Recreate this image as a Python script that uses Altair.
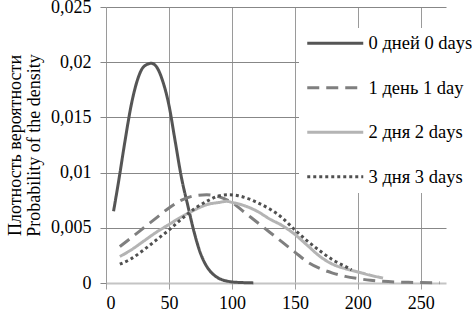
import altair as alt
import pandas as pd

series_names = ["0 дней 0 days", "1 день 1 day", "2 дня 2 days", "3 дня 3 days"]
series_colors = ["#555555", "#7f7f7f", "#b4b4b4", "#505050"]
series_dashes = [[1, 0], [12, 7], [1, 0], [3, 3]]

x0 = [6, 10, 15, 20, 25, 30, 36, 40, 45, 50, 55, 60, 65, 70, 75, 80, 85, 90, 95, 100, 108, 117]
y0 = [0.0065, 0.0092, 0.0128, 0.0161, 0.0184, 0.0196, 0.0199, 0.0196, 0.0183, 0.0161, 0.0128,
      0.0095, 0.0070, 0.0046, 0.0027, 0.0015, 0.0008, 0.0004, 0.0002, 0.0001, 0.00004, 0.00001]

x1 = [11, 20, 30, 40, 50, 60, 70, 80, 90, 100, 110, 120, 130, 140, 150, 160, 170, 180, 190, 200,
      210, 220, 240, 265]
y1 = [0.0033, 0.0041, 0.0050, 0.0059, 0.0068, 0.0075, 0.0079, 0.0080, 0.0078, 0.0073, 0.0064,
      0.0055, 0.0046, 0.0037, 0.0028, 0.0019, 0.0013, 0.0009, 0.0006, 0.0004, 0.00025, 0.00015,
      0.00006, 0.00002]

x2 = [11, 20, 30, 40, 50, 60, 70, 80, 90, 96, 100, 110, 120, 130, 140, 150, 160, 170, 180, 190,
      200, 210, 220]
y2 = [0.0024, 0.0030, 0.0038, 0.0046, 0.0053, 0.0060, 0.0066, 0.0071, 0.0073, 0.0074, 0.0073,
      0.0070, 0.0065, 0.0058, 0.0052, 0.0044, 0.0034, 0.0024, 0.0017, 0.0013, 0.0010, 0.0007,
      0.00045]

x3 = [11, 20, 30, 40, 50, 60, 70, 80, 90, 98, 105, 114, 120, 130, 140, 150, 160, 170, 180, 190, 195]
y3 = [0.0017, 0.0022, 0.0030, 0.0039, 0.0048, 0.0058, 0.0067, 0.0074, 0.0079, 0.0080, 0.0079,
      0.0076, 0.0073, 0.0067, 0.0059, 0.0048, 0.0038, 0.0029, 0.0021, 0.0015, 0.0012]

x_ticks = [0, 50, 100, 150, 200, 250]
y_ticks = [0, 0.005, 0.01, 0.015, 0.02, 0.025]
y_title = ["Плотность вероятности", "Probability of the density"]

rows = []
for name, xs, ys in zip(series_names, [x0, x1, x2, x3], [y0, y1, y2, y3]):
    for a, b in zip(xs, ys):
        rows.append({"series": name, "x": a, "y": b})
df = pd.DataFrame(rows)

FONT = "Liberation Serif"

legend = alt.Legend(
    title=None, orient="none", legendX=193, legendY=21,
    fillColor="white", padding=6,
    symbolType="M-1,0H7", symbolSize=196, symbolStrokeWidth=3,
    labelFont=FONT, labelFontSize=18.5, labelColor="black",
    labelOffset=45, rowPadding=25.5, labelLimit=300,
)

chart = alt.Chart(df).mark_line(strokeWidth=3, interpolate="monotone", strokeCap="butt").encode(
    x=alt.X("x:Q", scale=alt.Scale(domain=[0, 270], nice=False),
            axis=alt.Axis(values=x_ticks, title=None, grid=True, gridColor="#9a9a9a",
                          domain=False, tickColor="#a0a0a0", tickSize=6,
                          labelFont=FONT, labelFontSize=18, labelColor="black",
                          labelPadding=5)),
    y=alt.Y("y:Q", scale=alt.Scale(domain=[0, 0.025], nice=False),
            axis=alt.Axis(values=y_ticks, title=y_title, grid=True,
                          gridColor={"condition": {"test": "datum.value === 0", "value": "#c4c4c4"},
                                     "value": "#878787"},
                          gridWidth={"condition": {"test": "datum.value === 0", "value": 2},
                                     "value": 1},
                          domain=False, tickColor="#878787", tickSize=6,
                          labelExpr="replace(format(datum.value, '~g'), '.', ',')",
                          labelFont=FONT, labelFontSize=18, labelColor="black",
                          labelPadding=9,
                          titleFont=FONT, titleFontSize=18, titleFontWeight="normal",
                          titleColor="black", titleLineHeight=19,
                          titleX=-91, titleY=138, titleAlign="center",
                          titleBaseline="middle")),
    color=alt.Color("series:N", scale=alt.Scale(domain=series_names, range=series_colors),
                    legend=legend),
    strokeDash=alt.StrokeDash("series:N", scale=alt.Scale(domain=series_names, range=series_dashes),
                              legend=legend),
).properties(
    width=340, height=276,
    autosize=alt.AutoSizeParams(type="none"),
    padding={"left": 106, "top": 7, "right": 26, "bottom": 29},
).configure_view(strokeWidth=0)

chart.save("out.html", embed_options={"renderer": "svg", "actions": False})
